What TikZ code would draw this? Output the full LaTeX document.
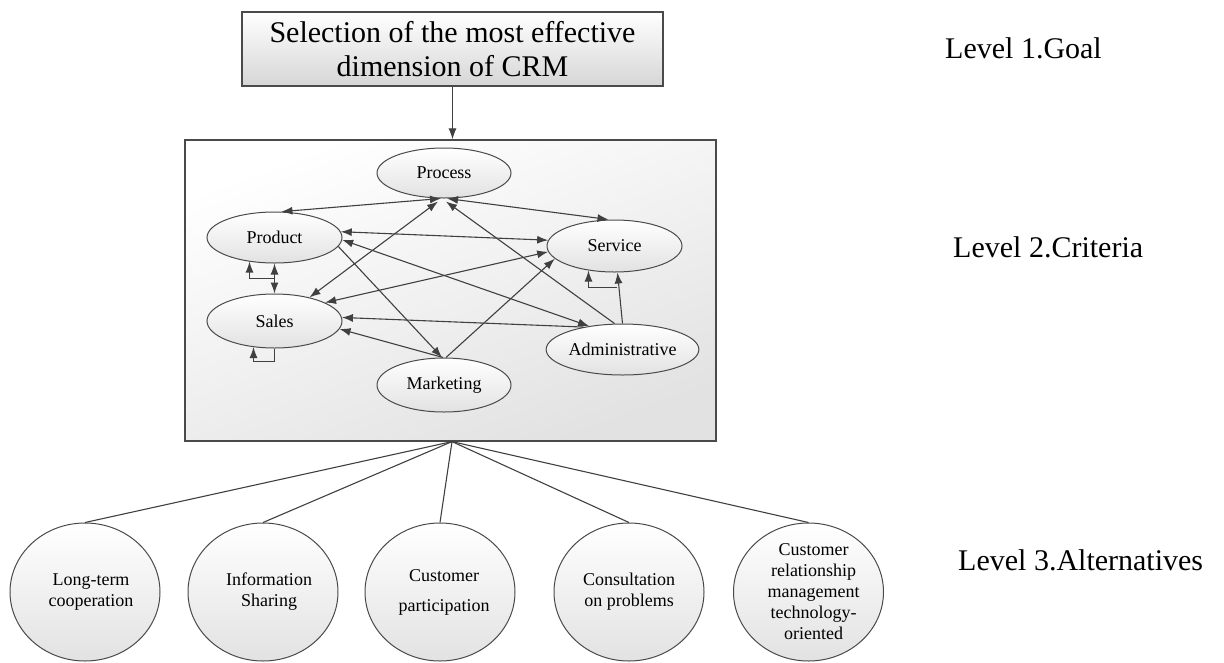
\documentclass[tikz,border=0pt]{standalone}
\usepackage{fontspec}
\setmainfont{Liberation Serif}
\usetikzlibrary{arrows.meta,calc,shapes.geometric}
\definecolor{linegray}{HTML}{404040}
\definecolor{bordergray}{HTML}{4A4A4A}
\definecolor{shadegray}{HTML}{E2E2E2}
\definecolor{goalgray}{HTML}{D6D6D6}
\begin{document}
\begin{tikzpicture}[x=1pt,y=-1pt,
  >={Latex[length=11pt,width=8pt]},
  goalbox/.style={rectangle,draw=bordergray,line width=1.2pt,top color=white,bottom color=goalgray,
    minimum width=421pt,minimum height=74pt,inner sep=0pt,align=center,font=\fontsize{30}{34}\selectfont},
  critbox/.style={rectangle,draw=bordergray,line width=1.2pt,top color=white,bottom color=shadegray,shading angle=20,
    minimum width=531pt,minimum height=301pt,inner sep=0pt},
  crit/.style={ellipse,draw=bordergray,line width=1pt,top color=white,bottom color=shadegray,
    inner sep=0pt,font=\fontsize{18}{21}\selectfont},
  alt/.style={ellipse,draw=bordergray,line width=1pt,top color=white,bottom color=shadegray,
    minimum width=150pt,minimum height=138pt,inner sep=0pt,align=center,font=\fontsize{18}{21}\selectfont},
  lvl/.style={inner sep=0pt,anchor=base west,font=\fontsize{30}{34}\selectfont},
  link/.style={draw=linegray,line width=1.1pt}
]
\useasboundingbox (0,0) rectangle (1224,662);

% Level 1
\node[goalbox] (goal) at (452.5,49) {Selection of the most effective\\dimension of CRM};

% Level 2 box
\node[critbox] (crit) at (450.5,290.5) {};
\draw[->,link] (goal.south) -- (goal.south |- crit.north);

% criteria
\node[crit,minimum width=134pt,minimum height=50pt] (process) at (444,173) {Process};
\node[crit,minimum width=135pt,minimum height=51pt] (product) at (274.5,237.5) {Product};
\node[crit,minimum width=135pt,minimum height=54pt] (sales) at (274.5,321) {Sales};
\node[crit,minimum width=134pt,minimum height=54pt] (marketing) at (444,385) {Marketing};
\node[crit,minimum width=135pt,minimum height=52pt] (service) at (614.5,246) {Service};
\node[crit,minimum width=151pt,minimum height=51pt] (admin) at (622.5,349.5) {Administrative};

% criteria relations
\draw[<->,link] ([xshift=-3pt]process.south) -- (product.75);
\draw[<->,link] ([xshift=3pt]process.south) -- ([xshift=-6pt]service.north);
\draw[<->,link] ([xshift=-6pt,yshift=-3pt]process.south) -- (sales.34);
\draw[->,link] ([xshift=-8pt]admin.north) -- ([xshift=2pt,yshift=-3pt]process.south);
\draw[<->,link] (product.5) -- (service.175);
\draw[<->,link] (product.358) -- (admin.145);
\draw[->,link] (product.352) -- ([xshift=-2pt]marketing.north);
\draw[<->,link] (sales.20) -- (service.185);
\draw[->,link] (admin.150) -- (sales.3);
\draw[->,link] ([xshift=-1pt]marketing.north) -- (sales.353);
\draw[->,link] ([xshift=2pt]marketing.north) -- (service.192);
\draw[->,link] (admin.north) -- ([xshift=3pt]service.south);
\draw[<->,link] (product.south) -- (sales.north);

% self loops
\draw[->,link] ($(product.south)+(-1,15)$) -| ($(product.south)+(-25,-2)$);
\draw[->,link] (sales.south) -- ++(0,13) -| ($(sales.south)+(-21,-1.5)$);
\draw[->,link] ($(service.south)+(2,15)$) -| ($(service.south)+(-26,-2)$);

% Level 3 alternatives
\node[alt] (a1) at (85,592) {\hspace*{12pt}Long-term\\\hspace*{12pt}cooperation};
\node[alt] (a2) at (263,592) {\hspace*{12pt}Information\\\hspace*{12pt}Sharing};
\node[alt] (a3) at (440,592) {\hspace*{8pt}Customer\\[9pt]\hspace*{8pt}participation};
\node[alt] (a4) at (629,592) {Consultation\\on problems};
\node[alt] (a5) at (808.5,592) {\hspace*{10pt}Customer\\\hspace*{10pt}relationship\\\hspace*{10pt}management\\\hspace*{10pt}technology-\\\hspace*{10pt}oriented};

\foreach \n in {a1,a2,a3,a4,a5}
  \draw[link] ([xshift=1.5pt]crit.south) -- (\n.north);

% level labels
\node[lvl] (l1) at (945,58) {Level 1.Goal};
\node[lvl] (l2) at (953,257) {Level 2.Criteria};
\node[lvl] (l3) at (958,570) {Level 3.Alternatives};
\end{tikzpicture}
\end{document}
